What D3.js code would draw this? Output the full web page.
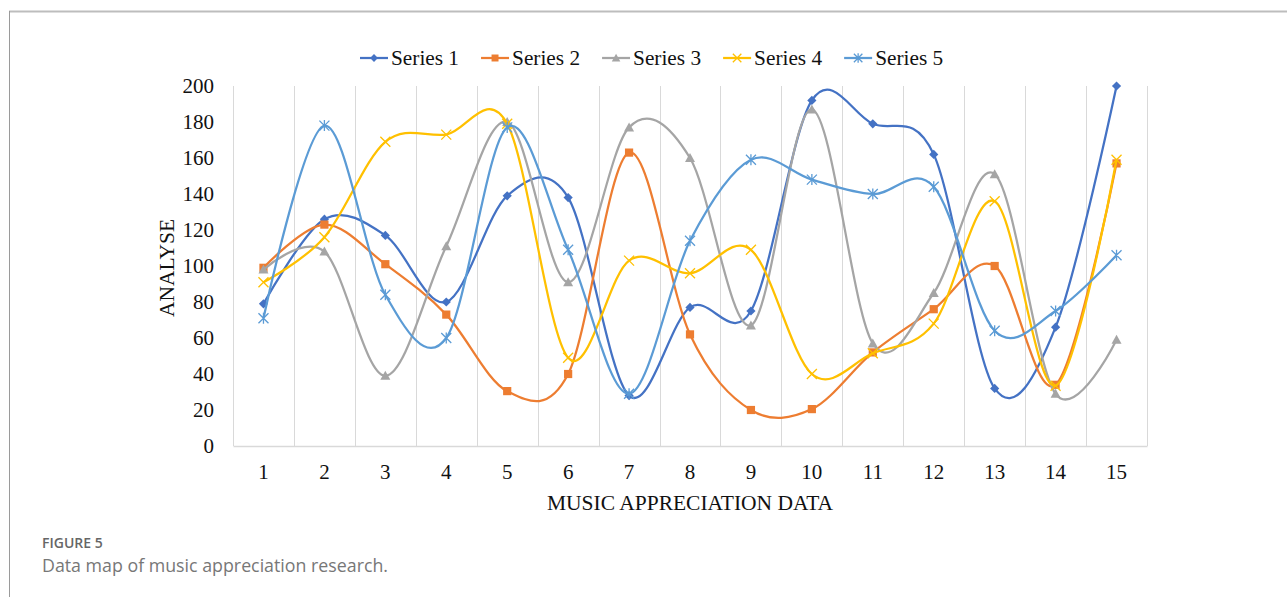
<!DOCTYPE html>
<html>
<head>
<meta charset="utf-8">
<script src="https://cdn.jsdelivr.net/npm/d3@7"></script>
<style>
  html, body { margin: 0; padding: 0; background: #fff; }
  svg { display: block; }
</style>
</head>
<body>
<svg id="chart" width="1287" height="597"></svg>
<script>
const categories = ["1","2","3","4","5","6","7","8","9","10","11","12","13","14","15"];
const series1 = [79, 126, 117, 80, 139, 138, 28, 77, 75, 192, 179, 162, 32, 66, 200];
const series2 = [99, 123, 101, 73, 30.5, 40, 163, 62, 20, 20.5, 52, 76, 100, 34, 157];
const series3 = [98, 108, 39, 111, 180, 91, 177, 160, 67, 187, 57, 85, 151, 29, 59];
const series4 = [91, 116, 169, 173, 179, 49, 103, 96, 109, 40, 51.5, 68, 136, 33.5, 159];
const series5 = [71, 178, 84, 60, 177, 109, 29, 114, 159, 148, 140, 144, 64, 75, 106];
const seriesNames = ["Series 1", "Series 2", "Series 3", "Series 4", "Series 5"];
const yTicks = [0, 20, 40, 60, 80, 100, 120, 140, 160, 180, 200];
const yTitle = "ANALYSE";
const xTitle = "MUSIC APPRECIATION DATA";
const figLabel = "FIGURE 5";
const figCaption = "Data map of music appreciation research.";

const allSeries = [series1, series2, series3, series4, series5];
const colors = ["#4472C4", "#ED7D31", "#A5A5A5", "#FFC000", "#5B9BD5"];
const markers = ["diamond", "square", "triangle", "x", "star"];
const serif = "'Liberation Serif', 'Times New Roman', serif";

const svg = d3.select("#chart");

// figure frame
svg.append("line").attr("x1", 9).attr("x2", 1287).attr("y1", 11.5).attr("y2", 11.5)
  .attr("stroke", "#bdbdbd").attr("stroke-width", 2);
svg.append("line").attr("x1", 9.5).attr("x2", 9.5).attr("y1", 11).attr("y2", 597)
  .attr("stroke", "#9a9a9a").attr("stroke-width", 1);

const plot = { left: 233, right: 1147, top: 86, bottom: 446 };
const x = d3.scaleBand().domain(categories).range([plot.left, plot.right]).padding(0);
const y = d3.scaleLinear().domain([0, 200]).range([plot.bottom, plot.top]);
const cx = c => x(c) + x.bandwidth() / 2;

// vertical gridlines at category boundaries
const bounds = categories.map(c => x(c)).concat([plot.right]);
svg.append("g").selectAll("line").data(bounds).join("line")
  .attr("x1", d => Math.round(d) + 0.5).attr("x2", d => Math.round(d) + 0.5)
  .attr("y1", plot.top).attr("y2", plot.bottom)
  .attr("stroke", "#d9d9d9").attr("stroke-width", 1);

// x axis
const xAxis = svg.append("g").attr("transform", `translate(0,${plot.bottom})`)
  .call(d3.axisBottom(x).tickSize(0).tickPadding(18));
xAxis.select(".domain").attr("stroke", "#d9d9d9").attr("stroke-width", 1.5);
xAxis.selectAll("text").attr("font-family", serif).attr("font-size", 21).attr("fill", "#111");

// y axis
const yAxis = svg.append("g").attr("transform", `translate(${plot.left},0)`)
  .call(d3.axisLeft(y).tickValues(yTicks).tickSize(0).tickPadding(19));
yAxis.select(".domain").remove();
yAxis.selectAll("text").attr("font-family", serif).attr("font-size", 21).attr("fill", "#111");

// axis titles
svg.append("text").attr("transform", `translate(174,268) rotate(-90)`)
  .attr("text-anchor", "middle").attr("font-family", serif).attr("font-size", 21.5)
  .attr("fill", "#111").text(yTitle);
svg.append("text").attr("x", (plot.left + plot.right) / 2).attr("y", 510)
  .attr("text-anchor", "middle").attr("font-family", serif).attr("font-size", 21.5)
  .attr("fill", "#111").text(xTitle);

// marker drawing
function drawMarker(g, type, color, px, py, s) {
  const k = s || 1;
  if (type === "diamond") {
    const r = 4.6 * k;
    g.append("path").attr("d", `M${px},${py - r}L${px + r},${py}L${px},${py + r}L${px - r},${py}Z`)
      .attr("fill", color);
  } else if (type === "square") {
    const r = 4.1 * k;
    g.append("rect").attr("x", px - r).attr("y", py - r).attr("width", 2 * r).attr("height", 2 * r)
      .attr("fill", color);
  } else if (type === "triangle") {
    const r = 5 * k;
    g.append("path").attr("d", `M${px},${py - r}L${px + r},${py + r * 0.8}L${px - r},${py + r * 0.8}Z`)
      .attr("fill", color);
  } else if (type === "x") {
    const r = 5 * k;
    g.append("path").attr("d", `M${px - r},${py - r}L${px + r},${py + r}M${px - r},${py + r}L${px + r},${py - r}`)
      .attr("stroke", color).attr("stroke-width", 1.3).attr("fill", "none");
  } else if (type === "star") {
    const r = 5 * k;
    g.append("path").attr("d", `M${px - r},${py - r}L${px + r},${py + r}M${px - r},${py + r}L${px + r},${py - r}M${px},${py - r * 1.1}L${px},${py + r * 1.1}`)
      .attr("stroke", color).attr("stroke-width", 1.3).attr("fill", "none");
  }
}

// lines
const line = d3.line().x((d, i) => cx(categories[i])).y(d => y(d)).curve(d3.curveCatmullRom.alpha(0));
allSeries.forEach((vals, si) => {
  const g = svg.append("g");
  g.append("path").attr("d", line(vals)).attr("fill", "none")
    .attr("stroke", colors[si]).attr("stroke-width", 2.25).attr("stroke-linejoin", "round");
  vals.forEach((v, i) => drawMarker(g, markers[si], colors[si], cx(categories[i]), y(v)));
});

// legend
const legend = svg.append("g");
let lx = 360;
seriesNames.forEach((name, si) => {
  const ly = 58;
  legend.append("line").attr("x1", lx).attr("x2", lx + 28).attr("y1", ly).attr("y2", ly)
    .attr("stroke", colors[si]).attr("stroke-width", 2.25);
  drawMarker(legend, markers[si], colors[si], lx + 14, ly, 0.85);
  const t = legend.append("text").attr("x", lx + 31).attr("y", ly + 7)
    .attr("font-family", serif).attr("font-size", 21.3).attr("fill", "#111").text(name);
  lx += 31 + t.node().getComputedTextLength() + 22;
});

// caption
svg.append("text").attr("x", 42).attr("y", 548).attr("font-family", "'Open Sans', sans-serif")
  .attr("font-size", 14).attr("font-weight", 600).attr("fill", "#666").text(figLabel);
svg.append("text").attr("x", 42).attr("y", 572).attr("font-family", "'Open Sans', sans-serif")
  .attr("font-size", 17.8).attr("font-weight", 400).attr("fill", "#777").text(figCaption);
</script>
</body>
</html>
